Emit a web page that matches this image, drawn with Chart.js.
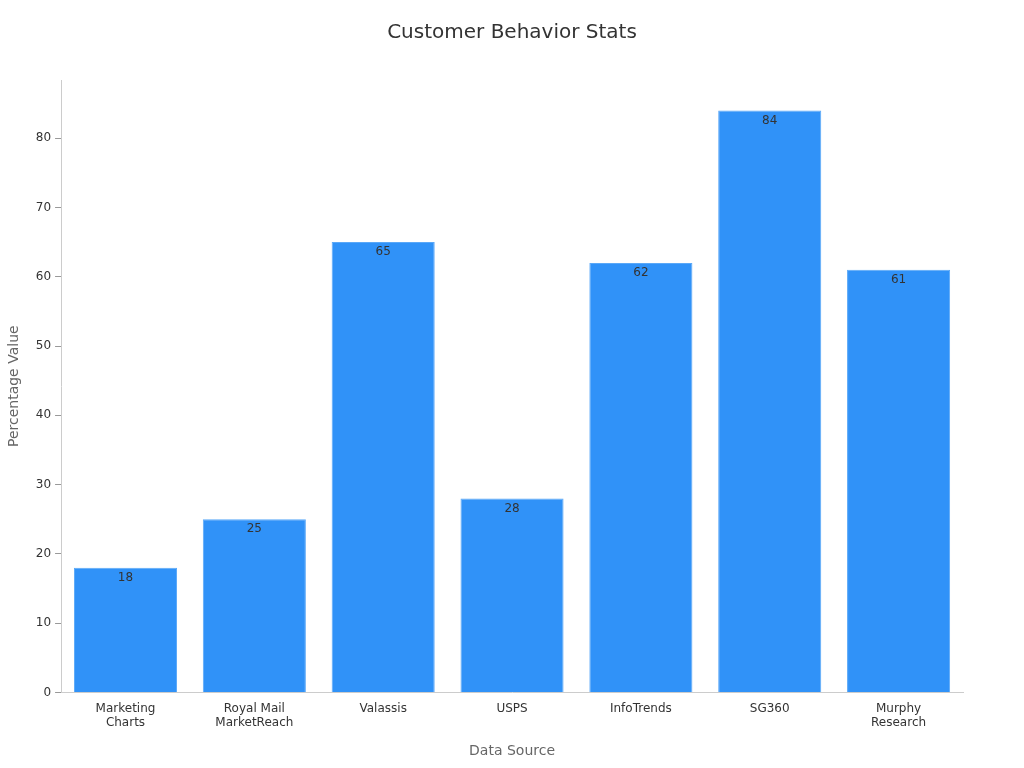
<!DOCTYPE html>
<html><head><meta charset="utf-8">
<script src="https://cdn.jsdelivr.net/npm/chart.js@4"></script>
<style>html,body{margin:0;background:#fff}#w{width:1024px;height:768px}</style>
</head><body><div id="w"><canvas id="c"></canvas></div>
<script>
const categories = [["Marketing","Charts"],["Royal Mail","MarketReach"],"Valassis","USPS","InfoTrends","SG360",["Murphy","Research"]];
const values = [18,25,65,28,62,84,61];
const yTicks = [0,10,20,30,40,50,60,70,80];
const chartTitle = 'Customer Behavior Stats';

const labelPlugin = {
  id:'lbl',
  afterDatasetsDraw(chart){
    const ctx=chart.ctx, meta=chart.getDatasetMeta(0);
    ctx.save();
    ctx.font='12px "DejaVu Sans"';ctx.fillStyle='#333';ctx.textAlign='center';ctx.textBaseline='top';
    meta.data.forEach((b,i)=>ctx.fillText(String(values[i]),b.x,b.y+4));
    ctx.font='20px "DejaVu Sans"';ctx.textBaseline='middle';
    ctx.fillText(chartTitle,chart.width/2,33);
    ctx.restore();
  }
};
new Chart(document.getElementById('c'),{
  type:'bar',
  data:{labels:categories,datasets:[{data:values,backgroundColor:'#3092f8',borderColor:'#5aa8f8',borderWidth:1,barPercentage:0.8,categoryPercentage:1}]},
  options:{
    responsive:true,maintainAspectRatio:false,animation:false,
    layout:{padding:{top:80,right:61,left:2,bottom:4}},
    plugins:{legend:{display:false},tooltip:{enabled:false},title:{display:false}},
    scales:{
      x:{grid:{display:false,drawTicks:false},border:{color:'#ccc'},
        ticks:{color:'#333',font:{family:'DejaVu Sans',size:12},padding:9,maxRotation:0,autoSkip:false},
        title:{display:true,text:'Data Source',color:'#666',font:{family:'DejaVu Sans',size:14},padding:{top:4}}},
      y:{min:0,max:88.4,grid:{display:true,drawOnChartArea:false,tickLength:6,color:'#999'},border:{color:'#ccc'},
        afterBuildTicks:a=>{a.ticks=yTicks.map(v=>({value:v}));},
        ticks:{color:'#333',font:{family:'DejaVu Sans',size:12},padding:4},
        title:{display:true,text:'Percentage Value',color:'#666',font:{family:'DejaVu Sans',size:14},padding:{top:4,bottom:9}}}
    }
  },
  plugins:[labelPlugin]
});
</script></body></html>
